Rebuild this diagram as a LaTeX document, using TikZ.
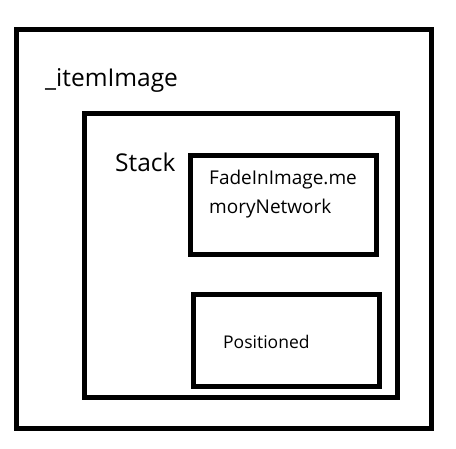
\documentclass[tikz,border=0pt]{standalone}
\usepackage{fontspec}
\setmainfont{Open Sans}
\usetikzlibrary{positioning}
\tikzset{
  frame/.style={draw=black,line width=5pt},
  lbl/.style={anchor=base west,inner sep=0pt,text=black},
  biglbl/.style={lbl,font=\fontsize{24.5}{28}\selectfont},
  smalllbl/.style={lbl,font=\fontsize{19}{28}\selectfont}
}
\begin{document}
\begin{tikzpicture}[x=1pt,y=-1pt]
  \useasboundingbox (0,0) rectangle (456,449);
  % outer widget
  \draw[frame] (16,30) rectangle (431,429);
  \node[biglbl] (itemImage) at (45,87) {\_itemImage};
  % stack
  \draw[frame] (84.5,113.5) rectangle (397,398);
  \node[biglbl] (stack) at (115,172) {Stack};
  % children of the stack
  \draw[frame] (190,155.5) rectangle (376,255);
  \node[smalllbl] (fadeA) at (209,185) {FadeInImage.me};
  \node[smalllbl] (fadeB) at (209,214) {moryNetwork};
  \draw[frame] (193,294.5) rectangle (379,386.5);
  \node[smalllbl,font=\fontsize{17.5}{28}\selectfont] (positioned) at (223,349) {Positioned};
\end{tikzpicture}
\end{document}
